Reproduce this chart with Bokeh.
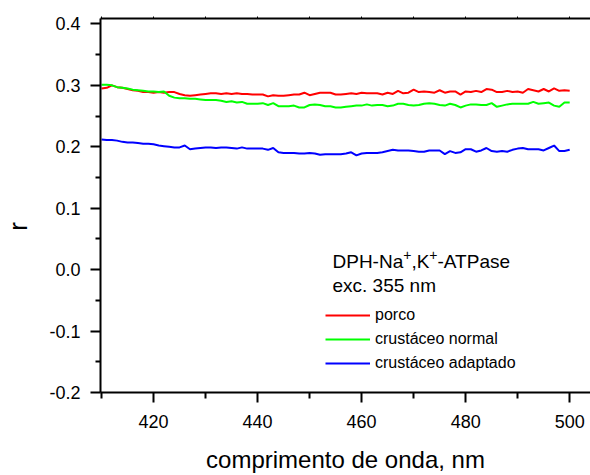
import math
from bokeh.plotting import figure
from bokeh.models import (Range1d, FixedTicker, LinearAxis, NumeralTickFormatter,
                          Legend, LegendItem, Label)
from bokeh.embed import file_html
from bokeh.resources import INLINE

# ---------------- data ----------------
wavelength = list(range(410, 501))

porco = [
    0.295, 0.296, 0.300, 0.297, 0.296, 0.294, 0.292, 0.291, 0.289, 0.289,
    0.288, 0.289, 0.288, 0.289, 0.289, 0.286, 0.284, 0.283, 0.284, 0.285,
    0.286, 0.287, 0.287, 0.286, 0.287, 0.286, 0.287, 0.286, 0.286, 0.285,
    0.285, 0.285, 0.282, 0.284, 0.283, 0.283, 0.284, 0.285, 0.285, 0.288,
    0.284, 0.286, 0.288, 0.288, 0.288, 0.285, 0.285, 0.286, 0.287, 0.286,
    0.288, 0.287, 0.287, 0.287, 0.285, 0.288, 0.286, 0.291, 0.287, 0.288,
    0.293, 0.289, 0.290, 0.289, 0.288, 0.292, 0.288, 0.290, 0.290, 0.285,
    0.290, 0.289, 0.291, 0.289, 0.294, 0.293, 0.289, 0.289, 0.291, 0.289,
    0.290, 0.288, 0.294, 0.292, 0.290, 0.294, 0.290, 0.295, 0.291, 0.292,
    0.291,
]

crustaceo_normal = [
    0.301, 0.301, 0.300, 0.297, 0.296, 0.295, 0.293, 0.292, 0.291, 0.290,
    0.290, 0.289, 0.290, 0.283, 0.280, 0.279, 0.279, 0.278, 0.278, 0.277,
    0.276, 0.276, 0.276, 0.275, 0.273, 0.274, 0.272, 0.273, 0.270, 0.270,
    0.270, 0.271, 0.268, 0.271, 0.266, 0.266, 0.266, 0.267, 0.264, 0.264,
    0.268, 0.269, 0.268, 0.266, 0.266, 0.264, 0.264, 0.265, 0.266, 0.267,
    0.267, 0.269, 0.267, 0.268, 0.268, 0.266, 0.267, 0.270, 0.270, 0.268,
    0.267, 0.268, 0.270, 0.271, 0.270, 0.268, 0.267, 0.270, 0.268, 0.264,
    0.267, 0.269, 0.269, 0.268, 0.268, 0.271, 0.265, 0.267, 0.269, 0.270,
    0.270, 0.270, 0.270, 0.273, 0.270, 0.271, 0.272, 0.267, 0.265, 0.272,
    0.272,
]

crustaceo_adaptado = [
    0.212, 0.211, 0.211, 0.210, 0.208, 0.207, 0.207, 0.206, 0.205, 0.205,
    0.204, 0.202, 0.201, 0.200, 0.199, 0.199, 0.202, 0.196, 0.197, 0.198,
    0.199, 0.199, 0.198, 0.199, 0.199, 0.198, 0.197, 0.199, 0.197, 0.197,
    0.197, 0.197, 0.195, 0.198, 0.191, 0.190, 0.190, 0.190, 0.189, 0.189,
    0.190, 0.189, 0.187, 0.188, 0.188, 0.188, 0.188, 0.189, 0.191, 0.186,
    0.189, 0.190, 0.190, 0.190, 0.191, 0.193, 0.195, 0.194, 0.194, 0.194,
    0.193, 0.192, 0.192, 0.194, 0.194, 0.194, 0.188, 0.193, 0.190, 0.191,
    0.196, 0.196, 0.192, 0.194, 0.198, 0.193, 0.192, 0.193, 0.192, 0.195,
    0.197, 0.198, 0.196, 0.196, 0.196, 0.194, 0.198, 0.202, 0.193, 0.193,
    0.195,
]

series_names = ["porco", "crustáceo normal", "crustáceo adaptado"]
series_colors = ["#FF0000", "#00FF00", "#0000FF"]

x_major_ticks = [420, 440, 460, 480, 500]
x_minor_ticks = [410, 430, 450, 470, 490]
y_major_ticks = [-0.2, -0.1, 0.0, 0.1, 0.2, 0.3, 0.4]
y_minor_ticks = [-0.15, -0.05, 0.05, 0.15, 0.25, 0.35]

# first annotation line split into (text, is_superscript) pieces
annotation_pieces = [("DPH-Na", False), ("+", True), (",K", False), ("+", True), ("-ATPase", False)]
annotation_line2 = "exc. 355 nm"
x_title = "comprimento de onda, nm"
y_title = "r"

FONT = "Liberation Sans"
MAIN_PX = 19
SUP_PX = 14

# Arial/Liberation Sans advance widths (em) for the characters used in the annotation
ADV = {"D": .722, "P": .667, "H": .722, "-": .333, "N": .722, "a": .556, "+": .584,
       ",": .278, "K": .667, "A": .667, "T": .611, "s": .5, "e": .556}

# ---------------- figure ----------------
p = figure(width=590, height=475, output_backend="svg", toolbar_location=None,
           x_range=Range1d(409.8, 504.0), y_range=Range1d(-0.2, 0.4088),
           x_axis_location=None, y_axis_location=None,
           min_border_left=100, min_border_right=0, min_border_top=18,
           min_border_bottom=82)
p.outline_line_color = None
p.xgrid.visible = False
p.ygrid.visible = False
p.background_fill_color = "white"
p.border_fill_color = "white"

renderers = []
for ys, c in zip([porco, crustaceo_normal, crustaceo_adaptado], series_colors):
    r = p.line(wavelength, ys, line_color=c, line_width=2)
    renderers.append(r)

# bottom axis
xa = LinearAxis(ticker=FixedTicker(ticks=x_major_ticks, minor_ticks=x_minor_ticks))
xa.axis_label = x_title
xa.axis_label_text_font = FONT
xa.axis_label_text_font_size = "24px"
xa.axis_label_text_font_style = "normal"
xa.axis_label_text_color = "black"
xa.axis_label_standoff = 15
xa.major_label_text_font = FONT
xa.major_label_text_font_size = "18px"
xa.major_label_text_color = "black"
xa.major_label_standoff = 12
xa.axis_line_width = 2
xa.axis_line_color = "black"
xa.major_tick_line_width = 2
xa.minor_tick_line_width = 2
xa.major_tick_in = 0
xa.major_tick_out = 10
xa.minor_tick_in = 0
xa.minor_tick_out = 6
p.add_layout(xa, "below")

# left axis
ya = LinearAxis(ticker=FixedTicker(ticks=y_major_ticks, minor_ticks=y_minor_ticks),
                formatter=NumeralTickFormatter(format="0.0"))
ya.major_label_text_font = FONT
ya.major_label_text_font_size = "18px"
ya.major_label_text_color = "black"
ya.major_label_standoff = 10
ya.axis_line_width = 2
ya.axis_line_color = "black"
ya.major_tick_line_width = 2
ya.minor_tick_line_width = 2
ya.major_tick_in = 0
ya.major_tick_out = 10
ya.minor_tick_in = 0
ya.minor_tick_out = 5
p.add_layout(ya, "left")

# y title: rotated label placed in the left side panel
p.add_layout(Label(x=1, y=166, x_units="screen", y_units="screen", text=y_title,
                   angle=math.pi / 2, text_font=FONT, text_font_size="26px",
                   text_color="black", text_align="center", text_baseline="middle"), "left")

# top axis (no labels)
ta = LinearAxis(ticker=FixedTicker(ticks=x_major_ticks, minor_ticks=x_minor_ticks))
ta.major_label_text_font_size = "0px"
ta.major_label_text_alpha = 0
ta.axis_line_width = 2
ta.axis_line_color = "black"
ta.major_tick_line_width = 1
ta.minor_tick_line_width = 1
ta.major_tick_in = 0
ta.major_tick_out = 2
ta.minor_tick_in = 0
ta.minor_tick_out = 2
p.add_layout(ta, "above")

# annotation text (with raised "+" signs)
ann_x, ann_y1, ann_y2 = 454.4, 0.013, -0.026
offset = 0.0
for txt, sup in annotation_pieces:
    size = SUP_PX if sup else MAIN_PX
    p.add_layout(Label(x=ann_x, y=ann_y1, x_offset=offset, y_offset=7 if sup else 0,
                       text=txt, text_font=FONT, text_font_size=f"{size}px",
                       text_color="black", text_baseline="alphabetic"))
    offset += sum(ADV[ch] for ch in txt) * size
p.add_layout(Label(x=ann_x, y=ann_y2, text=annotation_line2, text_font=FONT,
                   text_font_size=f"{MAIN_PX}px", text_color="black",
                   text_baseline="alphabetic"))

# legend
legend = Legend(items=[LegendItem(label=n, renderers=[r]) for n, r in zip(series_names, renderers)],
                location=(225, 17), border_line_alpha=0, background_fill_alpha=0,
                padding=0, margin=0, spacing=0, glyph_width=45, glyph_height=24,
                label_height=24, label_standoff=5, label_text_font=FONT,
                label_text_font_size="16px", label_text_color="black")
p.add_layout(legend, "center")

open("out.html", "w").write(file_html(p, INLINE))
